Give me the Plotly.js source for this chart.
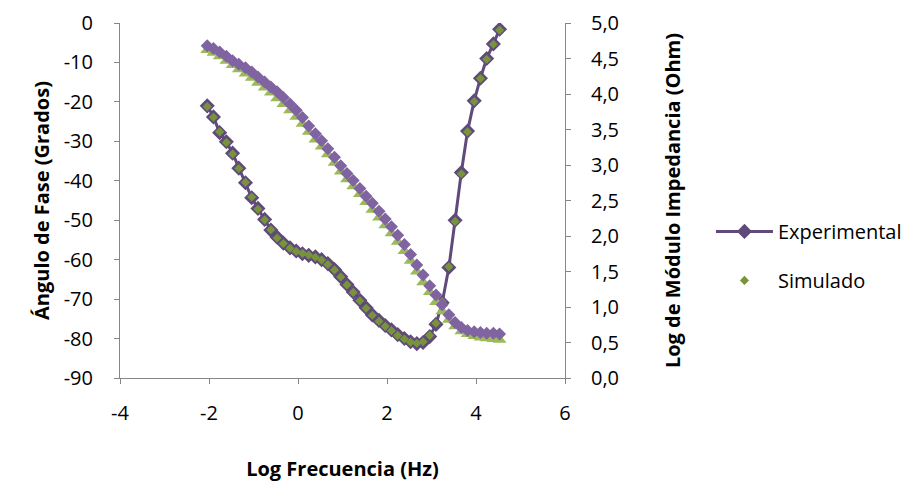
<!DOCTYPE html>
<html>
<head>
<meta charset="utf-8">
<script src="https://cdn.plot.ly/plotly-3.0.1.min.js"></script>
<style>html,body{margin:0;padding:0;background:#fff;}#chart{width:924px;height:485px;}</style>
</head>
<body>
<div id="chart"></div>
<script>
// Log frequency (Hz)
const logFreq = [-2.04, -1.90, -1.76, -1.61, -1.47, -1.33, -1.18, -1.04, -0.90, -0.75,
  -0.61, -0.47, -0.33, -0.18, -0.04, 0.10, 0.24, 0.39, 0.53, 0.67,
  0.82, 0.96, 1.10, 1.24, 1.39, 1.53, 1.67, 1.82, 1.96, 2.10,
  2.24, 2.39, 2.53, 2.67, 2.81, 2.96, 3.10, 3.24, 3.39, 3.53,
  3.67, 3.81, 3.96, 4.10, 4.24, 4.39, 4.53];
// Phase angle (degrees)
const phaseExp = [-21.0, -23.8, -27.8, -30.1, -33.0, -36.8, -40.5, -44.3, -47.0, -49.8,
  -52.5, -54.3, -55.8, -57.0, -57.8, -58.5, -58.9, -59.3, -60.0, -61.0,
  -62.5, -64.3, -66.3, -68.2, -70.3, -72.2, -74.0, -75.4, -76.7, -77.8,
  -79.0, -80.0, -80.8, -81.3, -81.0, -79.5, -76.4, -70.9, -62.0, -50.0,
  -37.9, -27.4, -19.7, -14.0, -9.0, -5.3, -1.6];
const phaseSim = [-21.2, -23.9, -27.6, -30.3, -33.2, -36.9, -40.4, -44.1, -47.2, -49.9,
  -52.4, -54.5, -55.9, -57.1, -57.9, -58.4, -58.8, -59.4, -60.1, -61.2,
  -62.6, -64.4, -66.4, -68.3, -70.4, -72.3, -74.1, -75.6, -76.9, -78.0,
  -79.2, -80.1, -80.9, -81.2, -80.8, -79.2, -76.1, -70.6, -61.8, -50.3,
  -38.2, -27.6, -19.9, -14.1, -9.2, -5.4, -1.8];
// Log impedance modulus (Ohm)
const logZExp = [4.68, 4.64, 4.59, 4.53, 4.47, 4.42, 4.37, 4.31, 4.24, 4.17,
  4.10, 4.03, 3.95, 3.86, 3.77, 3.67, 3.55, 3.44, 3.34, 3.23,
  3.11, 2.99, 2.88, 2.78, 2.67, 2.56, 2.46, 2.35, 2.24, 2.13,
  2.01, 1.88, 1.74, 1.59, 1.45, 1.30, 1.17, 1.03, 0.89, 0.78,
  0.71, 0.67, 0.65, 0.64, 0.63, 0.63, 0.62];
const logZSim = [4.62, 4.58, 4.53, 4.47, 4.41, 4.35, 4.29, 4.23, 4.16, 4.09,
  4.02, 3.94, 3.86, 3.77, 3.68, 3.58, 3.47, 3.36, 3.26, 3.15,
  3.03, 2.91, 2.80, 2.70, 2.59, 2.48, 2.37, 2.26, 2.15, 2.04,
  1.92, 1.79, 1.65, 1.50, 1.35, 1.21, 1.07, 0.94, 0.82, 0.73,
  0.66, 0.62, 0.59, 0.57, 0.56, 0.55, 0.54];

const xTickVals = [-4, -2, 0, 2, 4, 6];
const xTickText = ['-4', '-2', '0', '2', '4', '6'];
const phaseTickVals = [0, -10, -20, -30, -40, -50, -60, -70, -80, -90];
const phaseTickText = ['0', '-10', '-20', '-30', '-40', '-50', '-60', '-70', '-80', '-90'];
const zTickVals = [0, 0.5, 1, 1.5, 2, 2.5, 3, 3.5, 4, 4.5, 5];
const zTickText = ['0,0', '0,5', '1,0', '1,5', '2,0', '2,5', '3,0', '3,5', '4,0', '4,5', '5,0'];

const FONT = 'Open Sans, Noto Sans, sans-serif';
const FS = 20;
const AX = '#868686';

const traces = [
  {
    x: logFreq, y: phaseExp, name: 'Experimental', type: 'scatter', mode: 'lines+markers',
    yaxis: 'y', legendgroup: 'a',
    line: {color: '#604A7B', width: 3},
    marker: {symbol: 'diamond', size: 10, color: '#604A7B', line: {color: '#604A7B', width: 1.5}}
  },
  {
    x: logFreq, y: phaseSim, name: 'Simulado', type: 'scatter', mode: 'markers',
    yaxis: 'y', legendgroup: 'b',
    marker: {symbol: 'diamond', size: 7, color: '#77933C'}
  },
  {
    x: logFreq, y: logZSim, name: 'Simulado |Z|', type: 'scatter', mode: 'markers',
    yaxis: 'y2', showlegend: false,
    marker: {symbol: 'triangle-up', size: 12, color: '#9BBB59'}
  },
  {
    x: logFreq, y: logZExp, name: 'Experimental |Z|', type: 'scatter', mode: 'markers',
    yaxis: 'y2', showlegend: false,
    marker: {symbol: 'diamond', size: 10, color: '#8064A2'}
  }
];

const axisBase = {
  showgrid: false, zeroline: false, showline: true, linecolor: AX, linewidth: 1,
  ticks: 'outside', ticklen: 5, tickcolor: AX, tickwidth: 1,
  tickfont: {family: FONT, size: FS, color: '#000'}
};

const layout = {
  width: 924, height: 485,
  margin: {l: 120, r: 359, t: 23, b: 107, pad: 0},
  paper_bgcolor: '#fff', plot_bgcolor: '#fff',
  font: {family: FONT, size: FS, color: '#000'},
  xaxis: Object.assign({}, axisBase, {
    range: [-4, 6], tickmode: 'array', tickvals: xTickVals, ticktext: xTickText,
    ticklabelstandoff: 12,
    title: {text: 'Log Frecuencia (Hz)', font: {family: FONT, size: FS, weight: 700, color: '#000'}, standoff: 36}
  }),
  yaxis: Object.assign({}, axisBase, {
    range: [-90, 0], tickmode: 'array', tickvals: phaseTickVals, ticktext: phaseTickText,
    ticklabelstandoff: 17,
    title: {text: 'Ángulo de Fase (Grados)', font: {family: FONT, size: FS, weight: 700, color: '#000'}, standoff: 8}
  }),
  yaxis2: Object.assign({}, axisBase, {
    overlaying: 'y', side: 'right', anchor: 'x',
    range: [0, 5], tickmode: 'array', tickvals: zTickVals, ticktext: zTickText,
    ticklabelstandoff: 16,
    title: {text: 'Log de Módulo Impedancia (Ohm)', font: {family: FONT, size: FS, weight: 700, color: '#000'}, standoff: 47}
  }),
  showlegend: true,
  legend: {
    x: 1.328, xanchor: 'left', y: 0.344, yanchor: 'middle',
    font: {family: FONT, size: FS, color: '#000'},
    traceorder: 'grouped', tracegroupgap: 20, itemwidth: 57,
    bgcolor: 'rgba(0,0,0,0)'
  }
};

Plotly.newPlot('chart', traces, layout, {staticPlot: true, displayModeBar: false});
</script>
</body>
</html>
